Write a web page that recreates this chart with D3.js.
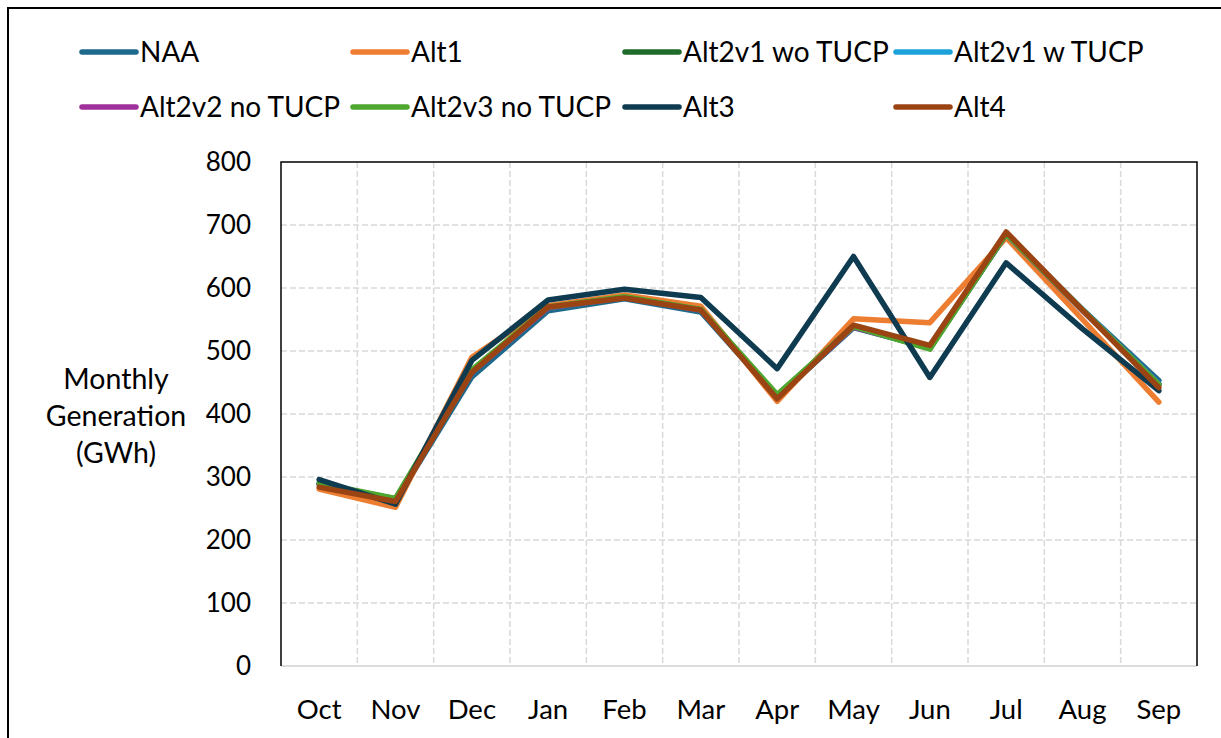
<!DOCTYPE html>
<html><head><meta charset="utf-8">
<script src="https://cdn.jsdelivr.net/npm/d3@7"></script>
<style>html,body{margin:0;padding:0;background:#fff;}svg{display:block;}</style>
</head><body>
<svg id="chart" width="1221" height="738"></svg>
<script>
const months = ["Oct","Nov","Dec","Jan","Feb","Mar","Apr","May","Jun","Jul","Aug","Sep"];
const yTicks = [0,100,200,300,400,500,600,700,800];
const seriesNames = ["NAA","Alt1","Alt2v1 wo TUCP","Alt2v1 w TUCP","Alt2v2 no TUCP","Alt2v3 no TUCP","Alt3","Alt4"];
const seriesColors = ["#1F6A8C","#ED7D31","#1F6B2B","#1DA1D9","#A0309B","#4EA72E","#0F3B50","#9A4313"];
const NAA      = [290,262,459,564,583,562,427,537,505,685,566,453];
const Alt1     = [281,252,490,572,589,571,420,551,545,680,550,419];
const Alt2v1wo = [289,265,467,569,585,565,429,540,504,686,565,447];
const Alt2v1w  = [289,265,467,569,585,565,429,539,505,686,565,448];
const Alt2v2   = [289,265,466,569,585,565,429,538,505,686,564,447];
const Alt2v3   = [290,266,470,570,586,566,431,539,503,686,565,447];
const Alt3     = [296,257,485,581,598,585,472,650,458,640,535,437];
const Alt4     = [284,261,466,570,584,565,424,541,509,689,565,442];
const seriesValues = [NAA,Alt1,Alt2v1wo,Alt2v1w,Alt2v2,Alt2v3,Alt3,Alt4];

const font = "Lato, 'Open Sans', sans-serif";
const svg = d3.select("#chart");
const L = 281, R = 1197, T = 162, B = 666;

// outer chart border (cropped)
svg.append("rect").attr("x",8).attr("y",8).attr("width",1240).attr("height",760)
  .attr("fill","none").attr("stroke","#000").attr("stroke-width",2);

const x = d3.scaleBand().domain(months).range([L,R]);
const y = d3.scaleLinear().domain([0,800]).range([B,T]);

// gridlines
const grid = svg.append("g");
grid.selectAll("line.h").data(yTicks.slice(1,-1)).join("line")
  .attr("x1",L).attr("x2",R).attr("y1",d=>y(d)).attr("y2",d=>y(d))
  .attr("stroke","#d9d9d9").attr("stroke-width",1.5).attr("stroke-dasharray","6,3");
grid.selectAll("line.v").data(months.slice(1)).join("line")
  .attr("x1",d=>x(d)).attr("x2",d=>x(d)).attr("y1",T).attr("y2",B)
  .attr("stroke","#d9d9d9").attr("stroke-width",1.5).attr("stroke-dasharray","6,3");

// plot border
svg.append("line").attr("x1",L).attr("x2",R).attr("y1",B).attr("y2",B).attr("stroke","#d0d0d0").attr("stroke-width",1.5);
svg.append("path").attr("d",`M${L},${B}V${T}H${R}V${B}`).attr("fill","none").attr("stroke","#000").attr("stroke-width",1.5);

// y axis labels
const yAxis = d3.axisLeft(y).tickValues(yTicks).tickSize(0).tickPadding(30);
const gy = svg.append("g").attr("transform",`translate(${L},0)`).call(yAxis);
gy.select(".domain").remove();
gy.selectAll("text").attr("font-family",font).attr("font-size",26).attr("fill","#000");

// x axis labels
const xAxis = d3.axisBottom(x).tickSize(0).tickPadding(33);
const gx = svg.append("g").attr("transform",`translate(0,${B})`).call(xAxis);
gx.select(".domain").remove();
gx.selectAll("text").attr("font-family",font).attr("font-size",27.5).attr("fill","#000");

// y title
const titleLines = ["Monthly","Generation","(GWh)"];
svg.append("g").selectAll("text").data(titleLines).join("text")
  .attr("x",116).attr("y",(d,i)=>379+i*37).attr("dy","0.35em")
  .attr("text-anchor","middle").attr("font-family",font).attr("font-size",28.5).text(d=>d);

// lines
const line = d3.line().x((d,i)=>x(months[i])+x.bandwidth()/2).y(d=>y(d));
svg.append("g").selectAll("path").data(seriesValues).join("path")
  .attr("d",d=>line(d)).attr("fill","none")
  .attr("stroke",(d,i)=>seriesColors[i]).attr("stroke-width",5.5)
  .attr("stroke-linejoin","round").attr("stroke-linecap","round");

// legend
const legX = [82,353,625,896], legY = [52,107];
const leg = svg.append("g").selectAll("g").data(seriesNames).join("g")
  .attr("transform",(d,i)=>`translate(${legX[i%4]},${legY[Math.floor(i/4)]})`);
leg.append("line").attr("x1",0).attr("x2",54).attr("y1",0).attr("y2",0)
  .attr("stroke",(d,i)=>seriesColors[i]).attr("stroke-width",5.5).attr("stroke-linecap","round");
leg.append("text").attr("x",58).attr("y",0).attr("dy","0.35em")
  .attr("font-family",font).attr("font-size",28).text(d=>d);
</script>
</body></html>
